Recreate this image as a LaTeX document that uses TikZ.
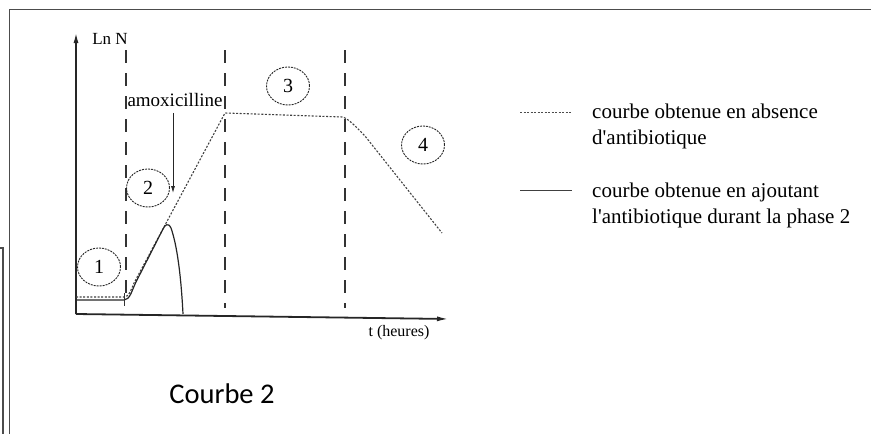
\documentclass[tikz,border=0pt]{standalone}
\usepackage{fontspec}
\setmainfont{Liberation Serif}[Ligatures=TeXOff]
\newfontfamily\calib{Carlito}
\usetikzlibrary{arrows.meta,shapes.geometric}
\begin{document}
\begin{tikzpicture}[x=1pt,y=-1pt,
  frameline/.style={draw=black!70,line width=1.3pt},
  axisline/.style={draw=black!85,line width=1.8pt},
  phaseline/.style={draw=black!80,line width=1.1pt,dash pattern=on 13pt off 10pt},
  dotcurve/.style={draw=black!75,line width=1.1pt,dash pattern=on 2pt off 1.6pt},
  solidcurve/.style={draw=black!85,line width=1.2pt},
  phasecircle/.style={draw=black!85,line width=0.9pt,dash pattern=on 2pt off 1pt,ellipse,minimum width=43pt,minimum height=38pt,inner sep=0pt,font=\fontsize{20}{20}\selectfont},
  legtext/.style={anchor=west,align=left,inner sep=0pt,font=\fontsize{21}{26}\selectfont}]
\useasboundingbox (0,0) rectangle (871,434);
% frame
\coordinate (ftr) at (871,9.5);
\coordinate (ftl) at (9.5,9.5);
\coordinate (fbl) at (9.5,434);
\draw[frameline] (ftr) -- (ftl) -- (fbl);
\coordinate (stl) at (0,248);
\coordinate (str) at (3,248);
\coordinate (sbr) at (3,434);
\draw[draw=black!70,line width=1.2pt] (stl) -- (str) -- (sbr);
% axes
\coordinate (O) at (76,314);
\coordinate (ytip) at (76,32);
\coordinate (xtip) at (449,319);
\draw[axisline,-{Latex[length=11pt,width=5pt]}] (O) -- (ytip);
\draw[axisline,-{Latex[length=12pt,width=5pt]}] (O) -- (xtip);
\node[inner sep=0pt,font=\fontsize{17}{17}\selectfont] (lnN) at (110,39) {Ln N};
\node[inner sep=0pt,font=\fontsize{16}{16}\selectfont] (theures) at (399,333) {t (heures)};
% phase lines
\coordinate (p1t) at (126,50);
\coordinate (p1b) at (126,300);
\coordinate (p2t) at (225,50);
\coordinate (p2b) at (225,308);
\coordinate (p3t) at (345,50);
\coordinate (p3b) at (345,308);
\draw[phaseline] (p1t) -- (p1b);
\draw[phaseline] (p2t) -- (p2b);
\draw[phaseline] (p3t) -- (p3b);
% curves
\draw[dotcurve] (76,297) -- (124,297) .. controls (129,297) and (131,290) .. (134,283) -- (225,113) -- (343,117) .. controls (350,120) and (356,127) .. (365,136) -- (442,233);
\draw[solidcurve] (76,300) -- (124,300) .. controls (130,300) and (132,290) .. (136,282) -- (163,229) .. controls (165,225) and (168,222) .. (171,228) .. controls (177,245) and (181,275) .. (183,314);
\coordinate (tickt) at (124,293);
\coordinate (tickb) at (124,306);
\draw[draw=black!80,line width=0.8pt] (tickt) -- (tickb);
% circles
\node[phasecircle] (c1) at (99,267) {1};
\node[phasecircle] (c2) at (148,188) {2};
\node[phasecircle] (c3) at (288,86) {3};
\node[phasecircle] (c4) at (423,145) {4};
% amoxicilline
\node[inner sep=0pt,font=\fontsize{19}{19}\selectfont] (amox) at (175,100) {amoxicilline};
\coordinate (arrend) at (173,193);
\draw[draw=black!85,line width=0.8pt,-{Latex[length=7pt,width=4pt]}] (amox.south -| arrend) ++(0,6) -- (arrend);
% legend
\coordinate (l1a) at (520,112);
\coordinate (l1b) at (572,112);
\draw[draw=black!70,line width=0.9pt,dash pattern=on 2pt off 1.5pt] (l1a) -- (l1b);
\node[legtext] (leg1) at (592,126) {courbe obtenue en absence\\d'antibiotique};
\coordinate (l2a) at (520,190);
\coordinate (l2b) at (572,190);
\draw[draw=black!75,line width=1pt] (l2a) -- (l2b);
\node[legtext] (leg2) at (592,205) {courbe obtenue en ajoutant\\l'antibiotique durant la phase 2};
% caption
\node[inner sep=0pt,font=\calib\fontsize{28.5}{28.5}\selectfont] (cap) at (222,394) {Courbe 2};
\end{tikzpicture}
\end{document}
